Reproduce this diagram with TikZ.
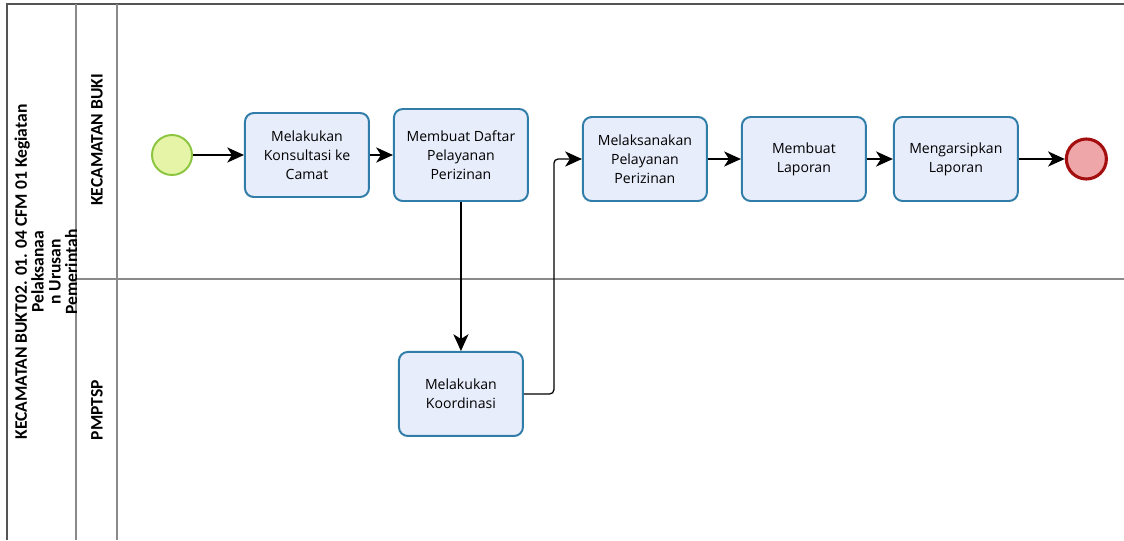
\documentclass[tikz,border=0pt]{standalone}
\usepackage{fontspec}
\setmainfont{Open Sans}
\newfontfamily\lanefont{Carlito}
\usetikzlibrary{positioning,arrows.meta}
\definecolor{taskfill}{HTML}{E8EDFB}
\definecolor{taskline}{HTML}{2F7DA8}
\definecolor{startfill}{HTML}{E5F4A6}
\definecolor{startline}{HTML}{8CC540}
\definecolor{endfill}{HTML}{EEA6A8}
\definecolor{endline}{HTML}{A50E0E}
\definecolor{pool}{HTML}{8A8A8A}
\definecolor{pooldark}{HTML}{555555}

\begin{document}
\begin{tikzpicture}[
  font=\fontsize{10}{13.5}\selectfont,
  task/.style={draw=taskline,fill=taskfill,line width=1.4pt,rounded corners=2.2mm,align=center,
               minimum width=3.1cm,minimum height=2.1cm,inner sep=1pt},
  startev/.style={circle,draw=startline,fill=startfill,line width=1.4pt,minimum size=1cm,inner sep=0pt},
  endev/.style={circle,draw=endline,fill=endfill,line width=2.2pt,minimum size=1cm,inner sep=0pt},
  lane/.style={draw=pool,line width=1.2pt},
  lbl/.style={font=\lanefont\bfseries\fontsize{12.5}{12}\selectfont,rotate=90,align=center},
  a/.style={-{Stealth[length=4.2mm,width=3.8mm,inset=1.2mm]},line width=0.9pt}]
\useasboundingbox (0,0) rectangle (28.1,-13.5);
\draw[lane,draw=pooldark] (28.1,-0.1) -| (0.175,-13.5);
\draw[lane] (1.9,-0.1) -- (1.9,-13.5);
\draw[lane] (2.925,-0.1) -- (2.925,-13.5);
\draw[lane] (1.9,-6.975) -- (28.1,-6.975);
\begin{scope}
  \clip (0.175,-0.1) rectangle (1.9,-13.5);
  \node[lbl] (bukt) at (1.15,-6.8) {KECAMATAN BUKT02. 01. 04 CFM 01 Kegiatan\\Pelaksanaa\\n Urusan\\Pemerintah};
\end{scope}
\node[lbl] (kec) at (2.425,-3.5) {KECAMATAN BUKI};
\node[lbl] (pmptsp) at (2.425,-10.25) {PMPTSP};
\node[startev] (start) at (4.3,-3.875) {};
\node[task,right=1.275cm of start] (konsul) {Melakukan\\Konsultasi ke\\Camat};
\node[task,right=0.575cm of konsul,minimum width=3.35cm,minimum height=2.3cm] (daftar) {Membuat Daftar\\Pelayanan\\Perizinan};
\node[task,right=1.325cm of daftar,yshift=-0.1cm] (laks) {Melaksanakan\\Pelayanan\\Perizinan};
\node[task,right=0.825cm of laks] (lapor) {Membuat\\Laporan};
\node[task,right=0.65cm of lapor] (arsip) {Mengarsipkan\\Laporan};
\node[endev,right=1.15cm of arsip] (end) {};
\node[task,below=3.725cm of daftar] (koord) {Melakukan\\Koordinasi};
\draw[a] (start) -- (konsul);
\draw[a] (konsul) -- (daftar);
\draw[a] (daftar) -- (koord);
\draw[a,rounded corners=3pt] (koord.east) -- ++(0.75,0) |- (laks.west);
\draw[a] (laks) -- (lapor);
\draw[a] (lapor) -- (arsip);
\draw[a] (arsip) -- (end);
\end{tikzpicture}
\end{document}
